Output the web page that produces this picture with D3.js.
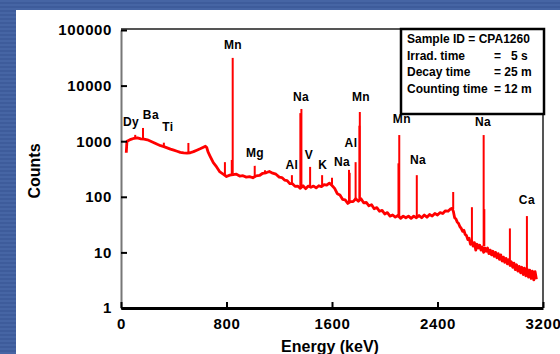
<!DOCTYPE html>
<html>
<head>
<meta charset="utf-8">
<script src="https://cdn.jsdelivr.net/npm/d3@7"></script>
<style>
  body { margin: 0; background: #41609e; }
  svg { display: block; }
  text { font-family: Arial, "Liberation Sans", sans-serif; font-weight: bold; fill: #000; }
</style>
</head>
<body>
<div id="chart"></div>
<script>
// gamma spectrum background: [energy keV, counts]
const continuum = [
  [40, 620], [45, 990], [50, 1010], [75, 1080], [100, 1130], [125, 1150], [150, 1100],
  [175, 1090], [200, 1060], [225, 1000], [250, 940], [275, 880], [300, 830], [325, 800],
  [350, 760], [375, 720], [400, 690], [425, 660], [450, 630], [475, 615], [500, 610],
  [525, 620], [550, 650], [575, 690], [600, 730], [625, 780], [640, 810], [650, 770],
  [660, 640], [675, 540], [700, 410], [725, 345], [750, 280], [775, 255], [800, 232],
  [825, 245], [850, 250], [875, 255], [900, 236], [925, 240], [950, 226], [975, 230],
  [1000, 220], [1025, 238], [1050, 242], [1075, 265], [1100, 270], [1125, 285], [1150, 266],
  [1175, 255], [1200, 226],
  [1220, 222], [1240, 200], [1260, 196], [1280, 172], [1300, 172], [1320, 154], [1340, 156],
  [1360, 142], [1380, 158], [1400, 140], [1420, 156], [1440, 148], [1460, 156], [1480, 145],
  [1500, 158], [1520, 152], [1540, 166], [1560, 162], [1580, 176], [1600, 160], [1620, 142],
  [1640, 114], [1660, 108], [1680, 90], [1700, 88], [1720, 76], [1740, 82], [1760, 82],
  [1780, 92], [1800, 83], [1820, 92], [1840, 78], [1860, 79], [1880, 69], [1900, 72],
  [1920, 61], [1940, 64], [1960, 55], [1980, 57], [2000, 49], [2020, 52], [2040, 45],
  [2060, 47], [2080, 43], [2100, 46], [2120, 41], [2140, 45], [2160, 42], [2180, 45],
  [2200, 41], [2220, 45], [2240, 42], [2260, 46], [2280, 42], [2300, 47], [2320, 43],
  [2340, 48], [2360, 45], [2380, 50], [2400, 47], [2420, 52], [2440, 50], [2460, 56],
  [2480, 55], [2500, 61],
  [2510, 62], [2520, 55], [2530, 42], [2540, 40], [2550, 35], [2560, 33], [2570, 29],
  [2580, 27], [2590, 24], [2600, 25], [2610, 21], [2620, 20], [2630, 17], [2640, 18],
  [2650, 14], [2660, 16], [2670, 13], [2680, 15], [2690, 11], [2700, 14], [2710, 12],
  [2720, 13.5], [2730, 11], [2740, 12.5], [2750, 10], [2760, 12], [2770, 10.5], [2780, 12],
  [2790, 9.5], [2800, 11], [2810, 9], [2820, 10.5], [2830, 8.5], [2840, 10], [2850, 8],
  [2860, 9.5], [2870, 7.5], [2880, 9], [2890, 7], [2900, 8.2], [2910, 6.6], [2920, 7.8],
  [2930, 6.2], [2940, 7.4], [2950, 5.8], [2960, 6.8], [2970, 5.4], [2980, 6.4], [2990, 4.9],
  [3000, 6], [3010, 4.6], [3020, 5.6], [3030, 4.3], [3040, 5.4], [3050, 4], [3060, 5.2],
  [3070, 3.8], [3080, 5], [3090, 3.6], [3100, 4.8], [3110, 3.4], [3120, 4.6], [3130, 3.2],
  [3140, 4.5], [3150, 3.3]
];

// photopeaks: [energy keV, base counts, top counts]
const peaks = [
  [108, 1140, 1300], [167, 1090, 1730], [325, 800, 940], [511, 610, 930],
  [788, 240, 420], [840, 250, 460], [847, 255, 31500],
  [1014, 225, 360], [1092, 262, 300], [1296, 170, 245],
  [1360, 150, 3200], [1368, 150, 3800], [1434, 152, 345], [1525, 158, 245],
  [1600, 165, 220], [1729, 80, 305], [1734, 80, 270], [1779, 86, 420],
  [1808, 86, 1900], [1811, 86, 3350], [2104, 43, 400], [2110, 43, 1290],
  [2243, 44, 245], [2519, 60, 122], [2661, 16, 65],
  [2750, 13, 1290], [2755, 13, 60], [2949, 7, 27], [3078, 5, 45]
];

const labelNames  = ['Dy', 'Ba', 'Ti', 'Mn', 'Mg', 'Al', 'Na', 'V', 'K', 'Na', 'Al', 'Mn', 'Mn', 'Na', 'Na', 'Ca'];
const labelEnergy = [76, 227, 356, 849, 1016, 1296, 1365, 1425, 1531, 1676, 1744, 1820, 2130, 2252, 2745, 3078];
const labelCount  = [2215, 2960, 1800, 53700, 614, 373, 6240, 565, 373, 423, 929, 6240, 2507, 459, 2215, 87.6];

const xTicks = [0, 800, 1600, 2400, 3200];
const yTicks = [1, 10, 100, 1000, 10000, 100000];

const infoLeft  = ['Sample ID = CPA1260', 'Irrad. time', 'Decay time', 'Counting time'];
const infoRight = ['', '=   5 s', '= 25 m', '= 12 m'];

const W = 560, H = 354;
const plot = { left: 121, right: 543, top: 29, bottom: 308 };

const svg = d3.select('#chart').append('svg').attr('width', W).attr('height', H);

// striped blue backdrop
const defs = svg.append('defs');
const pat = defs.append('pattern').attr('id', 'stripes')
  .attr('width', 8).attr('height', 4).attr('patternUnits', 'userSpaceOnUse');
pat.append('rect').attr('width', 8).attr('height', 4).attr('fill', '#3e5c9b');
pat.append('rect').attr('width', 8).attr('height', 2).attr('fill', '#4665a4');
svg.append('rect').attr('width', W).attr('height', H).attr('fill', 'url(#stripes)');
svg.append('rect').attr('x', 16).attr('y', 10).attr('width', W - 16).attr('height', H - 10).attr('fill', '#fff');

const x = d3.scaleLinear().domain([0, 3200]).range([plot.left, plot.right]);
const y = d3.scaleLog().domain([1, 100000]).range([plot.bottom, 30]);

// frame top / right
svg.append('path')
  .attr('d', `M${plot.left},${plot.top}H${plot.right}V${plot.bottom}`)
  .attr('fill', 'none').attr('stroke', '#555').attr('stroke-width', 2);

// spectrum
const line = d3.line().x(d => x(d[0])).y(d => y(d[1]));
svg.append('path').datum(continuum)
  .attr('d', line)
  .attr('fill', 'none').attr('stroke', '#ff0000').attr('stroke-width', 2.8)
  .attr('stroke-linejoin', 'round');

svg.append('g').selectAll('line').data(peaks).enter()
  .append('line')
  .attr('x1', d => x(d[0])).attr('x2', d => x(d[0]))
  .attr('y1', d => y(d[1])).attr('y2', d => y(d[2]))
  .attr('stroke', '#ff0000').attr('stroke-width', 2);

// y axis
const yAxis = d3.axisLeft(y).tickValues(yTicks).tickFormat(d3.format('d'))
  .tickSizeInner(-6).tickSizeOuter(0).tickPadding(9);
const gy = svg.append('g').attr('transform', 'translate(' + plot.left + ',0)').call(yAxis);
gy.select('.domain').attr('stroke', '#777').attr('stroke-width', 2);
gy.selectAll('.tick line').attr('stroke', '#000').attr('stroke-width', 2);
gy.selectAll('.tick text').style('font-size', '15px').style('letter-spacing', '0.6px')
  .attr('font-family', null).attr('fill', '#000');

// x axis
const xAxis = d3.axisBottom(x).tickValues(xTicks).tickFormat(d3.format('d'))
  .tickSizeInner(-6).tickSizeOuter(0).tickPadding(10);
const gx = svg.append('g').attr('transform', 'translate(0,' + plot.bottom + ')').call(xAxis);
gx.select('.domain').attr('stroke', '#000').attr('stroke-width', 3);
gx.selectAll('.tick line').attr('stroke', '#000').attr('stroke-width', 2);
gx.selectAll('.tick text').style('font-size', '15px').style('letter-spacing', '0.6px')
  .attr('font-family', null).attr('fill', '#000');

// axis titles
svg.append('text')
  .attr('transform', 'translate(40,171) rotate(-90)')
  .attr('text-anchor', 'middle')
  .style('font-size', '16px')
  .text('Counts');
svg.append('text')
  .attr('x', 330).attr('y', 352)
  .attr('text-anchor', 'middle')
  .style('font-size', '16px')
  .text('Energy (keV)');

// element labels
svg.append('g').selectAll('text').data(labelNames).enter()
  .append('text')
  .attr('x', (d, i) => x(labelEnergy[i]))
  .attr('y', (d, i) => y(labelCount[i]))
  .attr('dy', '0.35em')
  .attr('text-anchor', 'middle')
  .style('font-size', '12px')
  .style('letter-spacing', '0.4px')
  .text(d => d);

// info box
const box = svg.append('g');
box.append('rect')
  .attr('x', 401).attr('y', plot.top).attr('width', 143).attr('height', 85)
  .attr('fill', '#fff').attr('stroke', '#000').attr('stroke-width', 2.5);
infoLeft.forEach((t, i) => {
  box.append('text').attr('x', 407).attr('y', 43 + i * 16.7)
    .style('font-size', '12px').text(t);
  if (infoRight[i]) {
    box.append('text').attr('x', 494).attr('y', 43 + i * 16.7)
      .style('font-size', '12px').attr('xml:space', 'preserve')
      .style('white-space', 'pre').text(infoRight[i]);
  }
});
</script>
</body>
</html>
